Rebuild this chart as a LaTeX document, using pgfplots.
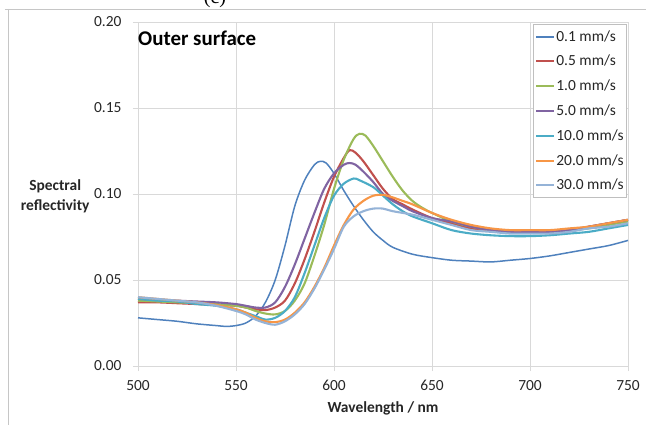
\documentclass[border=0pt]{standalone}
\usepackage{fontspec}
\setmainfont{Carlito}
\newfontfamily\seriffont{Liberation Serif}
\usepackage{pgfplots}
\pgfplotsset{compat=1.18}
\definecolor{cA}{HTML}{4F81BD}
\definecolor{cB}{HTML}{C0504D}
\definecolor{cC}{HTML}{9BBB59}
\definecolor{cD}{HTML}{8064A2}
\definecolor{cE}{HTML}{4BACC6}
\definecolor{cF}{HTML}{F79646}
\definecolor{cG}{HTML}{95B3D7}
\definecolor{gridc}{HTML}{D9D9D9}
\definecolor{txt}{HTML}{262626}
\begin{document}
\begin{tikzpicture}
\useasboundingbox (-138bp,-59bp) rectangle (508bp,366bp);
\draw[gray!45, line width=0.8bp] (-133bp,357bp) -- (508bp,357bp);
\draw[gray!45, line width=0.8bp] (-130bp,357bp) -- (-130bp,-59bp);
\node[font=\seriffont\fontsize{20}{24}\selectfont, anchor=base] at (77bp,362bp) {(c)};
\begin{axis}[
  scale only axis, width=490bp, height=344bp,
  xmin=500, xmax=750, ymin=0, ymax=0.2,
  xtick={500,550,600,650,700,750},
  ytick={0,0.05,0.1,0.15,0.2},
  scaled y ticks=false,
  /pgf/number format/assume math mode=true,
  yticklabel style={xshift=-8bp, /pgf/number format/.cd, fixed, fixed zerofill, precision=2},
  xticklabel style={yshift=-6bp},
  ticklabel style={font=\fontsize{15.5}{18}\selectfont, text=txt},
  grid=major, grid style={gridc, line width=0.8bp},
  axis line style={draw=none},
  tick style={gridc, line width=0.8bp},
  major tick length=5bp, tick align=outside,
  xtick pos=bottom, ytick pos=left,
  xlabel={Wavelength / nm},
  xlabel style={font=\bfseries\fontsize{15.5}{18}\selectfont, text=txt, at={(axis description cs:0.5,-0.122)}, anchor=center},
  ylabel={Spectral\\reflectivity},
  ylabel style={font=\bfseries\fontsize{15.5}{20}\selectfont, text=txt, align=center, rotate=-90, at={(axis description cs:-0.169,0.494)}, anchor=center},
  legend cell align=left,
  legend style={at={(axis description cs:0.998,0.994)}, anchor=north east, draw=gray!50, line width=0.8bp,
    font=\fontsize{15.5}{18}\selectfont, text=txt, row sep=8.6bp, inner xsep=2bp, inner ysep=4bp,
    nodes={inner xsep=1bp}},
  legend image code/.code={\draw[#1, line width=2bp] (0bp,0bp) -- (18bp,0bp);},
  ln/.style={line width=2.1bp, line join=round, smooth},
]
\addplot[cA, ln, line width=1.5bp] coordinates {
(500,0.028)(510,0.027)(520,0.026)(530,0.0245)(540,0.0235)(545,0.023)(550,0.0235)(555,0.025)
(560,0.029)(565,0.037)(570,0.050)(575,0.070)(580,0.093)(585,0.108)(590,0.117)(593,0.119)
(596,0.118)(600,0.112)(605,0.102)(610,0.093)(615,0.085)(620,0.078)(625,0.073)(630,0.069)
(640,0.065)(650,0.063)(660,0.0615)(670,0.061)(680,0.0605)(690,0.0615)(700,0.0625)(710,0.064)
(720,0.066)(730,0.068)(740,0.070)(750,0.073)};
\addlegendentry{0.1 mm/s}
\addplot[cB, ln] coordinates {
(500,0.037)(510,0.037)(520,0.0365)(530,0.036)(540,0.0355)(550,0.035)(555,0.034)(560,0.033)
(565,0.0325)(570,0.034)(575,0.038)(580,0.048)(585,0.062)(590,0.078)(595,0.095)(600,0.110)
(605,0.121)(608,0.1255)(611,0.124)(615,0.119)(620,0.111)(625,0.103)(630,0.097)(635,0.094)
(640,0.091)(650,0.086)(660,0.083)(670,0.080)(680,0.079)(690,0.078)(700,0.078)(710,0.078)
(720,0.079)(730,0.081)(740,0.083)(750,0.085)};
\addlegendentry{0.5 mm/s}
\addplot[cC, ln] coordinates {
(500,0.038)(510,0.0375)(520,0.037)(530,0.0365)(540,0.036)(550,0.035)(555,0.034)(560,0.032)
(565,0.0305)(570,0.030)(575,0.032)(580,0.038)(585,0.048)(590,0.064)(595,0.082)(600,0.103)
(605,0.120)(610,0.132)(613,0.135)(616,0.134)(620,0.128)(625,0.119)(630,0.110)(635,0.102)
(640,0.096)(645,0.092)(650,0.089)(660,0.084)(670,0.081)(680,0.079)(690,0.078)(700,0.078)
(710,0.078)(720,0.079)(730,0.080)(740,0.082)(750,0.084)};
\addlegendentry{1.0 mm/s}
\addplot[cD, ln] coordinates {
(500,0.039)(510,0.0385)(520,0.038)(530,0.0375)(540,0.037)(550,0.036)(555,0.035)(560,0.034)
(565,0.034)(570,0.037)(575,0.046)(580,0.059)(585,0.074)(590,0.089)(595,0.103)(600,0.112)
(605,0.117)(608,0.118)(611,0.117)(615,0.113)(620,0.107)(625,0.100)(630,0.096)(635,0.093)
(640,0.090)(650,0.086)(660,0.084)(670,0.081)(680,0.079)(690,0.078)(700,0.078)(710,0.078)
(720,0.079)(730,0.081)(740,0.083)(750,0.085)};
\addlegendentry{5.0 mm/s}
\addplot[cE, ln] coordinates {
(500,0.039)(510,0.038)(520,0.0375)(530,0.036)(540,0.035)(550,0.033)(555,0.031)(560,0.029)
(565,0.027)(570,0.028)(575,0.032)(580,0.040)(585,0.054)(590,0.070)(595,0.086)(600,0.099)
(605,0.106)(610,0.109)(613,0.108)(620,0.104)(625,0.099)(630,0.094)(635,0.090)(640,0.087)
(650,0.083)(660,0.079)(670,0.077)(680,0.076)(690,0.0755)(700,0.0755)(710,0.076)(720,0.077)
(730,0.078)(740,0.080)(750,0.082)};
\addlegendentry{10.0 mm/s}
\addplot[cF, ln] coordinates {
(500,0.040)(510,0.039)(520,0.038)(530,0.037)(540,0.0355)(550,0.033)(555,0.031)(560,0.028)
(565,0.026)(570,0.0255)(575,0.027)(580,0.031)(585,0.037)(590,0.046)(595,0.057)(600,0.070)
(605,0.082)(610,0.091)(615,0.096)(620,0.099)(625,0.0995)(630,0.098)(635,0.096)(640,0.094)
(650,0.089)(660,0.085)(670,0.082)(680,0.080)(690,0.079)(700,0.079)(710,0.079)(720,0.080)
(730,0.081)(740,0.083)(750,0.085)};
\addlegendentry{20.0 mm/s}
\addplot[cG, ln] coordinates {
(500,0.040)(510,0.039)(520,0.038)(530,0.037)(540,0.035)(550,0.032)(555,0.030)(560,0.027)
(565,0.025)(570,0.024)(575,0.026)(580,0.030)(585,0.036)(590,0.045)(595,0.056)(600,0.068)
(605,0.081)(610,0.087)(615,0.090)(620,0.0915)(625,0.0915)(630,0.090)(640,0.088)(650,0.085)
(660,0.082)(670,0.079)(680,0.078)(690,0.077)(700,0.077)(710,0.077)(720,0.078)(730,0.080)
(740,0.081)(750,0.083)};
\addlegendentry{30.0 mm/s}
\node[font=\bfseries\fontsize{21}{25}\selectfont, text=black, anchor=base west, inner sep=0pt] at (axis description cs:0.0,0.931) {Outer surface};
\end{axis}
\end{tikzpicture}
\end{document}
